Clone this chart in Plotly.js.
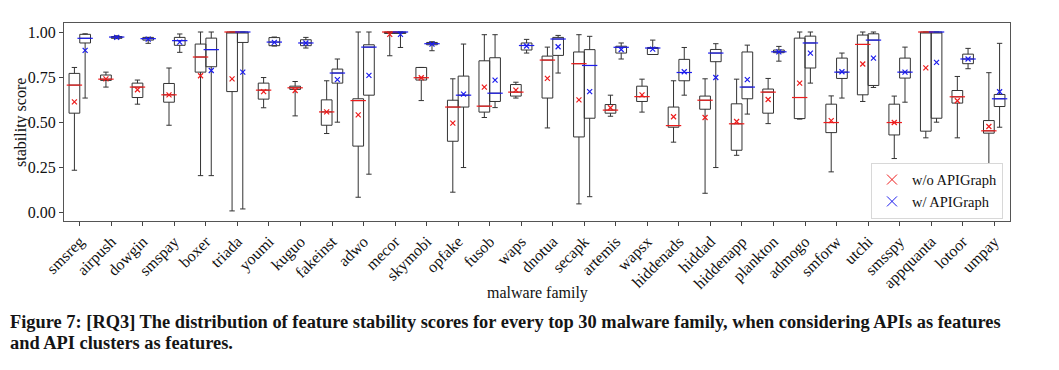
<!DOCTYPE html>
<html>
<head>
<meta charset="utf-8">
<script src="https://cdn.plot.ly/plotly-3.0.1.min.js"></script>
<style>html,body{margin:0;padding:0;background:#fff;}#chart{width:1059px;height:370px;}</style>
</head>
<body>
<div id="chart"></div>
<script>
const families = ['smsreg','airpush','dowgin','smspay','boxer','triada','youmi','kuguo','fakeinst','adwo','mecor','skymobi','opfake','fusob','waps','dnotua','secapk','artemis','wapsx','hiddenads','hiddad','hiddenapp','plankton','admogo','smforw','utchi','smsspy','appquanta','lotoor','umpay'];

// w/o APIGraph
const woLower  = [0.232,0.694,0.599,0.482,0.202,0.006,0.579,0.534,0.436,0.082,0.868,0.619,0.110,0.525,0.633,0.467,0.045,0.532,0.555,0.388,0.104,0.315,0.491,0.516,0.223,0.614,0.297,0.412,0.412,0.262];
const woQ1     = [0.549,0.731,0.636,0.610,0.777,0.669,0.627,0.681,0.482,0.366,0.992,0.733,0.393,0.555,0.644,0.633,0.417,0.549,0.614,0.471,0.571,0.343,0.549,0.519,0.441,0.651,0.428,0.449,0.605,0.438];
const woMedian = [0.705,0.738,0.694,0.651,0.861,1.000,0.677,0.690,0.556,0.619,1.000,0.746,0.583,0.588,0.666,0.844,0.824,0.566,0.641,0.480,0.621,0.490,0.666,0.636,0.497,0.931,0.497,1.000,0.640,0.451];
const woQ3     = [0.770,0.761,0.716,0.714,0.933,1.000,0.716,0.699,0.623,0.629,1.000,0.803,0.621,0.840,0.708,0.866,0.889,0.597,0.699,0.583,0.644,0.601,0.683,0.966,0.599,0.983,0.599,1.000,0.675,0.508];
const woUpper  = [0.803,0.777,0.733,0.800,1.000,1.000,0.747,0.725,0.729,1.000,1.000,0.803,0.740,0.985,0.721,0.916,0.985,0.649,0.738,0.729,0.740,0.738,0.742,1.000,0.645,1.000,0.644,1.000,0.753,0.774];
const woMean   = [0.612,0.740,0.679,0.651,0.757,0.740,0.669,0.675,0.556,0.540,0.987,0.746,0.494,0.694,0.677,0.742,0.623,0.579,0.651,0.529,0.525,0.503,0.625,0.716,0.508,0.822,0.497,0.801,0.618,0.475];

// w/ APIGraph
const wLower  = [0.633,0.963,0.937,0.887,0.202,0.017,0.922,0.911,0.499,0.210,0.914,0.896,0.247,0.580,0.883,0.772,0.085,0.850,0.875,0.649,0.247,0.544,0.838,0.716,0.633,0.692,0.610,0.499,0.796,0.471];
const wQ1     = [0.939,0.965,0.955,0.926,0.807,0.942,0.924,0.924,0.716,0.649,0.992,0.929,0.583,0.614,0.900,0.870,0.521,0.883,0.875,0.729,0.835,0.629,0.885,0.800,0.742,0.703,0.744,0.521,0.824,0.586];
const wMedian = [0.965,0.972,0.963,0.952,0.902,1.000,0.944,0.939,0.772,0.916,1.000,0.935,0.649,0.660,0.925,0.961,0.814,0.915,0.911,0.775,0.883,0.694,0.890,0.939,0.777,0.955,0.777,1.000,0.850,0.629];
const wQ3     = [0.987,0.975,0.970,0.970,0.966,1.000,0.969,0.957,0.794,0.929,1.000,0.942,0.755,0.857,0.939,0.970,0.902,0.921,0.914,0.848,0.903,0.889,0.900,0.977,0.855,0.990,0.855,1.000,0.877,0.653];
const wUpper  = [0.990,0.979,0.970,0.989,1.000,1.000,0.972,0.970,0.850,1.000,1.000,0.946,0.933,0.985,0.959,0.981,0.976,0.939,0.955,0.914,0.935,0.927,0.920,1.000,0.883,1.000,0.916,1.000,0.909,0.937];
const wMean   = [0.898,0.970,0.960,0.944,0.786,0.777,0.942,0.939,0.735,0.759,0.987,0.933,0.655,0.733,0.922,0.918,0.669,0.903,0.905,0.779,0.747,0.735,0.890,0.883,0.779,0.855,0.777,0.831,0.850,0.668];

const seriesNames = ['w/o APIGraph','w/ APIGraph'];
const captionLines = [
  'Figure 7: [RQ3] The distribution of feature stability scores for every top 30 malware family, when considering APIs as features',
  'and API clusters as features.'
];

const RED = '#ee1c1c', BLUE = '#1c1cee', EDGE = '#333333';
const OFF = 0.17, BW = 0.34;
const idx = families.map((_, i) => i);
const FONT = 'Liberation Serif, Times New Roman, serif';

function series(name, color, shift, lo, q1, med, q3, up, mean) {
  const xs = idx.map(i => i + shift);
  return [
    {type:'box', x:xs, lowerfence:lo, q1:q1, median:med, q3:q3, upperfence:up,
     width:BW, whiskerwidth:0.5, boxpoints:false,
     line:{color:EDGE, width:1}, fillcolor:'rgba(255,255,255,0)',
     showlegend:false, hoverinfo:'skip'},
    {type:'scatter', mode:'markers', x:xs, y:med, showlegend:false, hoverinfo:'skip',
     marker:{symbol:'line-ew', size:11, color:color, line:{color:color, width:1.2}}},
    {type:'scatter', mode:'markers', x:xs, y:mean, showlegend:false, hoverinfo:'skip',
     marker:{symbol:'x-thin', size:5, color:color, line:{color:color, width:1.2}}},
    {type:'scatter', mode:'markers', x:[null], y:[null], name:name, showlegend:true,
     marker:{symbol:'x-thin', size:10, color:color, line:{color:color, width:1}}}
  ];
}

const data = [].concat(
  series(seriesNames[0], RED, -OFF, woLower, woQ1, woMedian, woQ3, woUpper, woMean),
  series(seriesNames[1], BLUE, OFF, wLower, wQ1, wMedian, wQ3, wUpper, wMean)
);

const layout = {
  width:1059, height:370,
  margin:{l:64, r:49, t:23, b:149},
  paper_bgcolor:'#fff', plot_bgcolor:'#fff',
  font:{family:FONT, size:16, color:'#111'},
  xaxis:{range:[-0.5,29.5], tickmode:'array', tickvals:idx, ticktext:families,
         tickangle:-45, ticks:'outside', ticklen:4, tickcolor:'#444',
         showline:true, mirror:true, linecolor:'#555', linewidth:1,
         showgrid:false, zeroline:false, tickfont:{family:FONT, size:16, color:'#111'}},
  yaxis:{range:[-0.05,1.05], tickmode:'array', tickvals:[0,0.25,0.5,0.75,1], tickformat:'.2f',
         ticks:'outside', ticklen:4, tickcolor:'#444',
         showline:true, mirror:true, linecolor:'#555', linewidth:1,
         showgrid:false, zeroline:false, tickfont:{family:FONT, size:16, color:'#111'}},
  showlegend:true,
  legend:{x:0.9926, xanchor:'right', y:0.012, yanchor:'bottom',
          bgcolor:'#fff', bordercolor:'#d8d8d8', borderwidth:1,
          font:{family:FONT, size:14.5, color:'#111'}},
  annotations:[
    {text:'stability score', xref:'paper', yref:'paper', x:-0.0455, y:0.5,
     xanchor:'center', yanchor:'middle', textangle:-90, showarrow:false,
     font:{family:FONT, size:16, color:'#111'}},
    {text:'malware family', xref:'paper', yref:'paper', x:0.5, y:-0.364,
     xanchor:'center', yanchor:'middle', showarrow:false,
     font:{family:FONT, size:16, color:'#111'}},
    {text:'<b>' + captionLines[0] + '</b>',
     xref:'paper', yref:'paper', x:-0.0592, y:-0.512, xanchor:'left', yanchor:'middle',
     align:'left', showarrow:false, font:{family:FONT, size:18.4, color:'#151515'}},
    {text:'<b>' + captionLines[1] + '</b>',
     xref:'paper', yref:'paper', x:-0.0592, y:-0.616, xanchor:'left', yanchor:'middle',
     align:'left', showarrow:false, font:{family:FONT, size:18.4, color:'#151515'}}
  ]
};

Plotly.newPlot('chart', data, layout, {displayModeBar:false, staticPlot:true});
</script>
</body>
</html>
